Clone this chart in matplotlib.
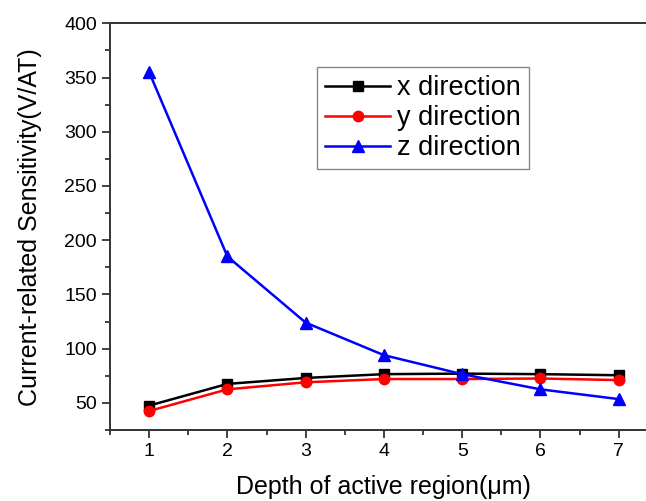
import matplotlib
matplotlib.use("Agg")
import matplotlib.pyplot as plt
from matplotlib.ticker import MultipleLocator

plt.rcParams['font.family'] = ['Liberation Sans', 'DejaVu Sans']

# data
depth = [1, 2, 3, 4, 5, 6, 7]
x_dir = [47.5, 67.5, 73, 76.5, 77, 76.5, 75.5]
y_dir = [42.5, 62.5, 69, 72, 72, 72.5, 71]
z_dir = [355, 185, 124, 94, 76.5, 62.5, 53.5]

fig = plt.figure(figsize=(6.46, 5.01), dpi=100)
ax = fig.add_axes([0.1703, 0.1417, 0.848, 0.8118])

ax.plot(depth, x_dir, color='black', lw=1.8, marker='s', ms=6.5, label='x direction')
ax.plot(depth, y_dir, color='red', lw=1.8, marker='o', ms=7.5, label='y direction')
ax.plot(depth, z_dir, color='blue', lw=1.8, marker='^', ms=8, label='z direction')

ax.set_xlim(0.5, 7.5)
ax.set_ylim(25, 400)
ax.xaxis.set_major_locator(MultipleLocator(1))
ax.xaxis.set_minor_locator(MultipleLocator(0.5))
ax.yaxis.set_major_locator(MultipleLocator(50))
ax.yaxis.set_minor_locator(MultipleLocator(25))
ax.set_yticks([50, 100, 150, 200, 250, 300, 350, 400])

ax.tick_params(which='both', direction='out', top=False, right=False,
               labelsize=14, color='#333333', width=1.3)
ax.tick_params(which='major', length=6)
ax.tick_params(which='minor', length=3.5)
for side in ax.spines.values():
    side.set_linewidth(1.4)
    side.set_color('#333333')

ax.set_xlabel('Depth of active region(\u03bcm)', fontsize=18, labelpad=11)
ax.set_ylabel('Current-related Sensitivity(V/AT)', fontsize=18, labelpad=16)

leg = ax.legend(loc='upper left', bbox_to_anchor=(0.4907, 0.8663),
                bbox_transform=fig.transFigure, fontsize=19.5,
                fancybox=False, framealpha=1, edgecolor='#888888',
                handlelength=2.4, handletextpad=0.25, borderpad=0.3,
                labelspacing=0.15, borderaxespad=0)
leg.get_frame().set_linewidth(1.0)

fig.savefig('out.png', dpi=100)
